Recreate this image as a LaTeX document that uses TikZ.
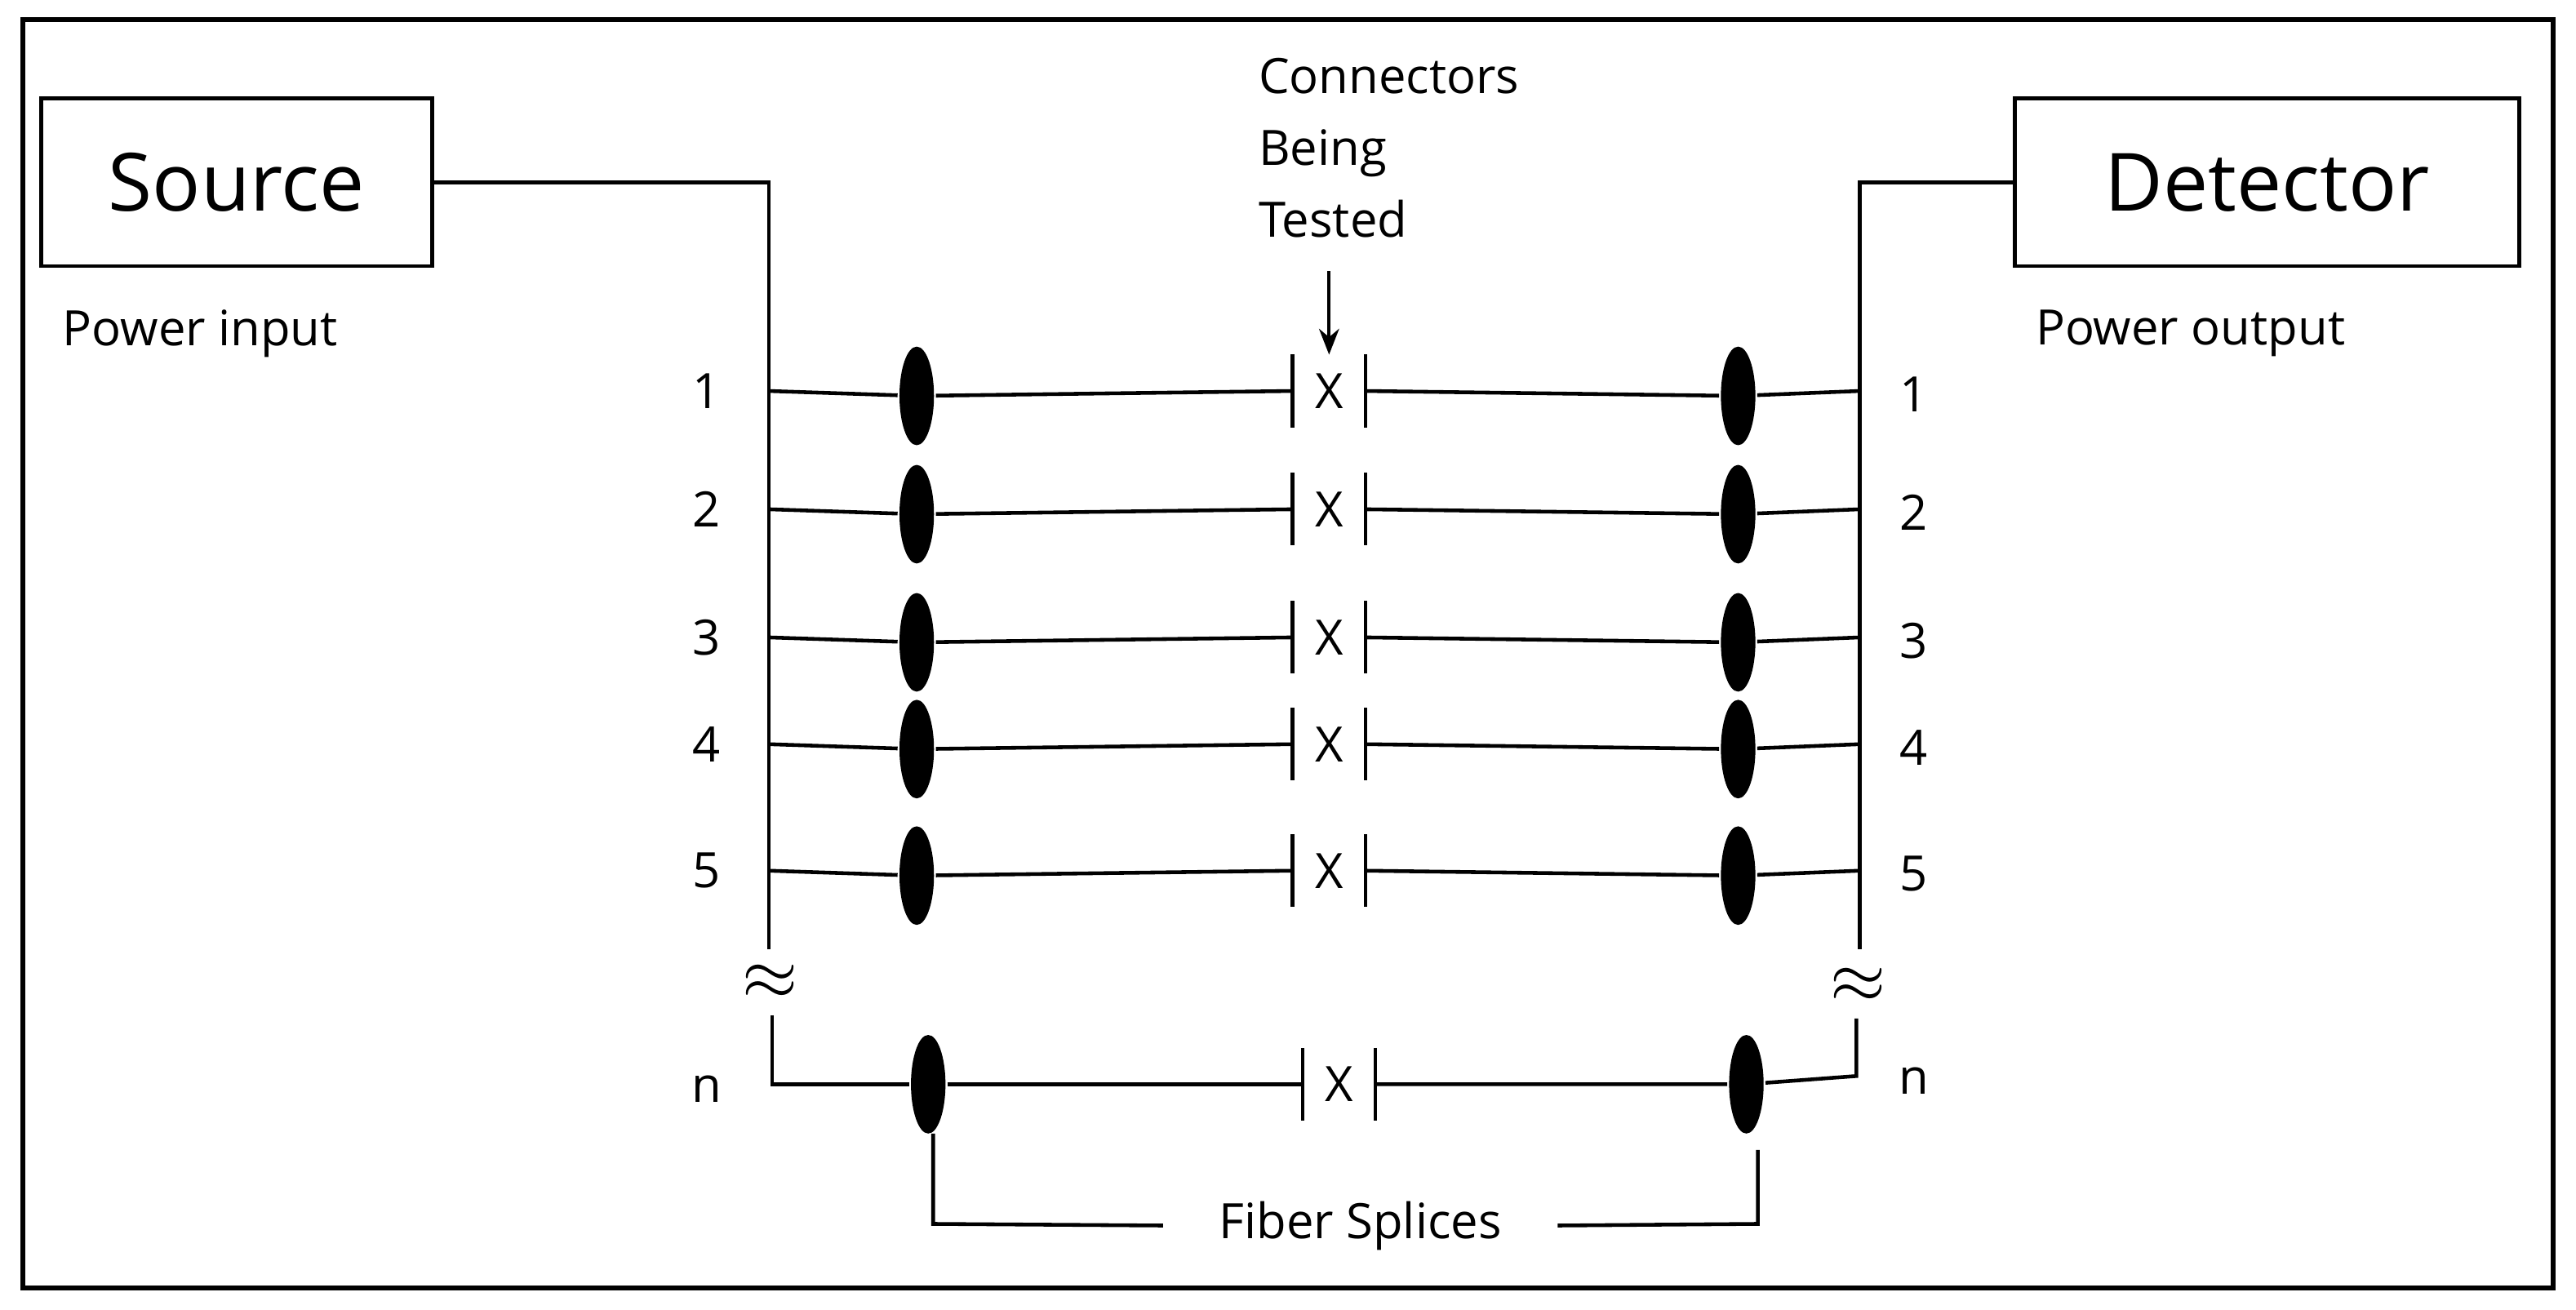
\documentclass[tikz,border=0pt]{standalone}
\usepackage{fontspec}
\setmainfont{Open Sans}
\usetikzlibrary{shapes,arrows.meta,positioning,calc}

\begin{document}
\begin{tikzpicture}[
  x=0.02013cm, y=-0.02013cm,
  line width=1.3pt,
  box/.style={rectangle, draw, line width=1.3pt, minimum height=102*0.02013cm, font=\fontsize{28}{32}\selectfont},
  lbl/.style={font=\fontsize{17}{21}\selectfont, inner sep=0pt},
  splice/.style={ellipse, fill=black, inner sep=0pt, minimum width=21*0.02013cm, minimum height=60*0.02013cm},
  conn/.style={inner sep=0pt, minimum width=42*0.02013cm, minimum height=42*0.02013cm, font=\fontsize{17}{21}\selectfont},
  brk/.style={font=\fontsize{30}{30}\selectfont\bfseries, inner sep=0pt},
  arrow/.style={-{Stealth[length=9pt,width=7pt]}, line width=1.1pt}
]
\useasboundingbox (0,0) rectangle (1568,797);
\draw[line width=1.8pt] (14,12) rectangle (1554,784);

\node[box, minimum width=238*0.02013cm] (source) at (144,111) {Source};
\node[box, minimum width=307*0.02013cm] (detector) at (1380,111) {Detector};
\node[lbl, anchor=west] (pin) at (37,203) {Power input};
\node[lbl, anchor=west] (pout) at (1238,203) {Power output};

\node[lbl, anchor=west, align=left, font=\fontsize{17}{25}\selectfont] (tested) at (765,90) {Connectors\\Being\\Tested};

% buses
\coordinate (ltop) at (468,111);
\coordinate (rtop) at (1132,111);
\node[brk] (lbrk) at (469,598) {$\approx$};
\node[brk] (rbrk) at (1131,600) {$\approx$};
\draw (source.east) -- (ltop) -- (468,578);
\draw (detector.west) -- (rtop) -- (1132,578);

% rows
\foreach \i/\y in {1/238, 2/310, 3/388, 4/453, 5/530} {
  \node[lbl] (ln\i) at (430,\y) {\i};
  \node[lbl] (rn\i) at (1165,\y+2) {\i};
  \coordinate (l\i) at (468,\y);
  \coordinate (r\i) at (1132,\y);
  \node[conn] (c\i) at (809,\y) {X};
  \node[splice] (sl\i) at (558,\y+3) {};
  \node[splice] (sr\i) at (1058,\y+3) {};
  \draw (l\i) -- (sl\i) -- (c\i.west);
  \draw (c\i.east) -- (sr\i) -- (r\i);
  \draw (c\i.north west) -- (c\i.south west);
  \draw (c\i.north east) -- (c\i.south east);
}

% row n
\node[lbl] (lnn) at (430,663) {n};
\node[lbl] (rnn) at (1165,658) {n};
\coordinate (ln) at (470,660);
\coordinate (rn) at (1130,655);
\node[conn] (cn) at (815,660) {X};
\node[splice] (sln) at (565,660) {};
\node[splice] (srn) at (1063,660) {};
\draw (470,618) -- (ln) -- (sln) -- (cn.west);
\draw (cn.east) -- (srn) -- (rn) -- (1130,620);
\draw (cn.north west) -- (cn.south west);
\draw (cn.north east) -- (cn.south east);

\coordinate (ta) at (809,165);
\draw[arrow] (ta) -- (c1.north);

% fiber splices bracket
\node[lbl] (fs) at (828,746) {Fiber Splices};
\draw (568,690) -- (568,745) -- ($(fs.west)+(-33,0)$);
\draw ($(fs.east)+(33,0)$) -- (1070,745) -- (1070,700);
\end{tikzpicture}
\end{document}
